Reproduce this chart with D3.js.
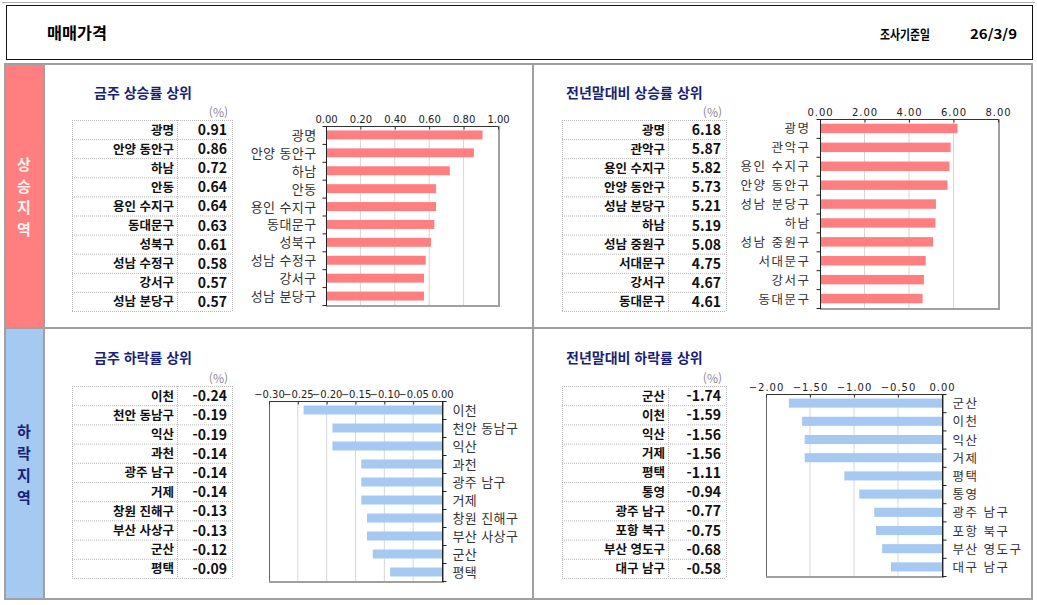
<!DOCTYPE html>
<html lang="ko">
<head>
<meta charset="UTF-8">
<title>매매가격</title>
<script src="https://cdn.jsdelivr.net/npm/d3@7/dist/d3.min.js"></script>
<style>
  * { margin: 0; padding: 0; }
  body { background: #fff; width: 1037px; height: 605px; overflow: hidden; }
  svg { display: block; font-family: "Noto Sans CJK KR", "Noto Sans", sans-serif; }
</style>
</head>
<body>
<svg id="chart" width="1037" height="605"></svg>
<script>
// ---- data ----
const weekUpNames = ['광명', '안양 동안구', '하남', '안동', '용인 수지구', '동대문구', '성북구', '성남 수정구', '강서구', '성남 분당구'];
const weekUpValues = [0.91, 0.86, 0.72, 0.64, 0.64, 0.63, 0.61, 0.58, 0.57, 0.57];
const weekUpTicks = [0, 0.2, 0.4, 0.6, 0.8, 1.0];

const ytdUpNames = ['광명', '관악구', '용인 수지구', '안양 동안구', '성남 분당구', '하남', '성남 중원구', '서대문구', '강서구', '동대문구'];
const ytdUpValues = [6.18, 5.87, 5.82, 5.73, 5.21, 5.19, 5.08, 4.75, 4.67, 4.61];
const ytdUpTicks = [0, 2, 4, 6, 8];

const weekDownNames = ['이천', '천안 동남구', '익산', '과천', '광주 남구', '거제', '창원 진해구', '부산 사상구', '군산', '평택'];
const weekDownValues = [-0.24, -0.19, -0.19, -0.14, -0.14, -0.14, -0.13, -0.13, -0.12, -0.09];
const weekDownTicks = [-0.30, -0.25, -0.20, -0.15, -0.10, -0.05, 0];

const ytdDownNames = ['군산', '이천', '익산', '거제', '평택', '통영', '광주 남구', '포항 북구', '부산 영도구', '대구 남구'];
const ytdDownValues = [-1.74, -1.59, -1.56, -1.56, -1.11, -0.94, -0.77, -0.75, -0.68, -0.58];
const ytdDownTicks = [-2, -1.5, -1, -0.5, 0];

const UP = '#ff7f80', DOWN = '#a6c9f1', NAVY = '#1a1f78', FRAME = '#a0a0a0';

const svg = d3.select('#chart');
const fmt = d3.format('.2f');

// ---- header ----
svg.append('line').attr('x1', 2).attr('x2', 1035).attr('y1', 2.5).attr('y2', 2.5).attr('stroke', '#b0b0b0');
svg.append('rect').attr('x', 6.5).attr('y', 5.5).attr('width', 1026).attr('height', 54)
  .attr('fill', '#fff').attr('stroke', '#111');
svg.append('text').attr('x', 47).attr('y', 39).text('매매가격')
  .attr('font-size', 16).attr('font-weight', 700).attr('fill', '#000')
  .attr('textLength', 60).attr('lengthAdjust', 'spacingAndGlyphs');
svg.append('text').attr('x', 880).attr('y', 39).text('조사기준일')
  .attr('font-size', 13).attr('font-weight', 700)
  .attr('textLength', 50).attr('lengthAdjust', 'spacingAndGlyphs');
svg.append('text').attr('x', 1017).attr('y', 39).attr('text-anchor', 'end').text('26/3/9')
  .attr('font-size', 13).attr('font-weight', 700)
  .attr('textLength', 47).attr('lengthAdjust', 'spacingAndGlyphs');

// ---- outer frame & side labels ----
svg.append('rect').attr('x', 5).attr('y', 64).attr('width', 1027).attr('height', 535)
  .attr('fill', 'none').attr('stroke', FRAME).attr('stroke-width', 2);
svg.append('rect').attr('x', 6).attr('y', 65).attr('width', 37).attr('height', 262).attr('fill', UP);
svg.append('rect').attr('x', 6).attr('y', 329).attr('width', 37).attr('height', 269).attr('fill', DOWN);
svg.append('line').attr('x1', 44).attr('x2', 44).attr('y1', 64).attr('y2', 599).attr('stroke', FRAME).attr('stroke-width', 2);
svg.append('line').attr('x1', 533).attr('x2', 533).attr('y1', 64).attr('y2', 599).attr('stroke', FRAME).attr('stroke-width', 2);
svg.append('line').attr('x1', 5).attr('x2', 1032).attr('y1', 328).attr('y2', 328).attr('stroke', FRAME).attr('stroke-width', 2);

function sideLabel(chars, ys, color) {
  svg.append('g').selectAll('text').data(chars).join('text')
    .attr('x', 24).attr('y', (d, i) => ys[i] + 5).attr('text-anchor', 'middle')
    .attr('font-size', 15).attr('font-weight', 700).attr('fill', color).text(d => d);
}
sideLabel(['상', '승', '지', '역'], [165, 187, 208, 230], '#fff2f2');
sideLabel(['하', '락', '지', '역'], [432, 454, 476, 498], NAVY);

// ---- panels ----
function panel(cfg) {
  const g = svg.append('g');
  const n = cfg.names.length;

  g.append('text').attr('x', cfg.titleX).attr('y', cfg.titleY).text(cfg.title)
    .attr('font-size', 14).attr('font-weight', 700).attr('fill', NAVY);

  // table
  const t = cfg.table;
  g.append('text').attr('x', t.x1 - 4).attr('y', t.top - 3).attr('text-anchor', 'end')
    .attr('font-size', 12).attr('fill', '#8a8a9a').text('(%)');
  const rows = d3.range(n + 1).map(i => t.top + i * t.rowH);
  g.append('g').selectAll('line').data(rows).join('line')
    .attr('x1', t.x0).attr('x2', t.x1).attr('y1', d => d + 0.5).attr('y2', d => d + 0.5)
    .attr('stroke', '#b8b8b8').attr('stroke-dasharray', '1,1');
  g.append('g').selectAll('line').data([t.x0, t.xDiv, t.x1]).join('line')
    .attr('x1', d => d + 0.5).attr('x2', d => d + 0.5).attr('y1', t.top).attr('y2', rows[n])
    .attr('stroke', '#b8b8b8').attr('stroke-dasharray', '1,1');
  g.append('g').selectAll('text').data(cfg.names).join('text')
    .attr('x', t.xDiv - 3).attr('y', (d, i) => t.top + t.rowH * (i + 0.5) + 5)
    .attr('text-anchor', 'end').attr('font-size', 12.5).attr('font-weight', 700).attr('fill', '#111')
    .text(d => d);
  g.append('g').selectAll('text').data(cfg.values).join('text')
    .attr('x', t.x1 - 5).attr('y', (d, i) => t.top + t.rowH * (i + 0.5) + 5.5)
    .attr('text-anchor', 'end').attr('font-size', 14).attr('font-weight', 700).attr('fill', '#111')
    .text(d => fmt(d).replace('−', '-'));

  // bar chart
  const p = cfg.plot;
  const x = d3.scaleLinear().domain(d3.extent(cfg.ticks)).range([p.x0, p.x1]);
  const y = d3.scaleBand().domain(cfg.names).range([p.y0, p.y1]).paddingInner(0.5).paddingOuter(0.25);

  g.append('g').selectAll('line').data(cfg.ticks.slice(1, -1)).join('line')
    .attr('x1', d => x(d)).attr('x2', d => x(d)).attr('y1', p.y0).attr('y2', p.y1)
    .attr('stroke', '#d6d6d6');

  g.append('g').selectAll('rect').data(cfg.values).join('rect')
    .attr('x', d => x(Math.min(0, d)))
    .attr('width', d => Math.abs(x(d) - x(0)))
    .attr('y', (d, i) => y(cfg.names[i]))
    .attr('height', y.bandwidth())
    .attr('fill', cfg.color);

  // frame
  g.append('line').attr('x1', p.x1 + 1).attr('x2', p.x1 + 1).attr('y1', p.y0).attr('y2', p.y1 + 2)
    .attr('stroke', FRAME).attr('stroke-width', 2);
  g.append('line').attr('x1', p.x0).attr('x2', p.x1 + 2).attr('y1', p.y1 + 1).attr('y2', p.y1 + 1)
    .attr('stroke', FRAME).attr('stroke-width', 2);
  g.append('line').attr('x1', p.x0).attr('x2', p.x1).attr('y1', p.y0 + 0.5).attr('y2', p.y0 + 0.5)
    .attr('stroke', '#333');
  g.append('line').attr('x1', p.x0 + 0.5).attr('x2', p.x0 + 0.5).attr('y1', p.y0).attr('y2', p.y1)
    .attr('stroke', cfg.side === 'left' ? '#333' : '#666');

  const ax = g.append('g').attr('transform', `translate(0,${p.y0 + 0.5})`)
    .call(d3.axisTop(x).tickValues(cfg.ticks).tickFormat(fmt).tickSizeInner(-3).tickSizeOuter(0).tickPadding(4));
  ax.select('.domain').remove();
  ax.selectAll('line').attr('stroke', '#333');
  ax.selectAll('text').attr('font-size', 10).attr('fill', '#222')
    .attr('font-family', '"DejaVu Sans", sans-serif').attr('letter-spacing', cfg.tickSpacing || 0);

  // category axis
  const cx = cfg.side === 'left' ? p.x0 + 0.5 : p.x1 + 0.5;
  const dir = cfg.side === 'left' ? -1 : 1;
  g.append('line').attr('x1', cx).attr('x2', cx).attr('y1', p.y0).attr('y2', p.y1 + 1).attr('stroke', '#222');
  const step = y.step();
  g.append('g').selectAll('line').data(d3.range(n + 1)).join('line')
    .attr('x1', cx).attr('x2', cx + dir * 4)
    .attr('y1', i => p.y0 + i * step + 0.5).attr('y2', i => p.y0 + i * step + 0.5)
    .attr('stroke', '#222');
  g.append('g').selectAll('text').data(cfg.names).join('text')
    .attr('x', cx + dir * 10)
    .attr('y', d => y(d) + y.bandwidth() / 2 + 5)
    .attr('text-anchor', cfg.side === 'left' ? 'end' : 'start')
    .attr('font-size', cfg.spaced ? 12.5 : 13).attr('fill', '#333')
    .attr('letter-spacing', cfg.spaced ? 1.5 : 0.4)
    .text(d => d);
}

panel({
  title: '금주 상승률 상위', names: weekUpNames, values: weekUpValues, ticks: weekUpTicks,
  color: UP, side: 'left', titleX: 94, titleY: 98,
  table: { x0: 72, x1: 232, xDiv: 177, top: 120, rowH: 19.1 },
  plot: { x0: 326, x1: 498, y0: 126, y1: 305 }
});
panel({
  title: '전년말대비 상승률 상위', names: ytdUpNames, values: ytdUpValues, ticks: ytdUpTicks,
  color: UP, side: 'left', spaced: true, tickSpacing: 1, titleX: 566, titleY: 98,
  table: { x0: 562, x1: 726, xDiv: 668, top: 120, rowH: 19.1 },
  plot: { x0: 820, x1: 998, y0: 119, y1: 308 }
});
panel({
  title: '금주 하락률 상위', names: weekDownNames, values: weekDownValues, ticks: weekDownTicks,
  color: DOWN, side: 'right', titleX: 94, titleY: 363,
  table: { x0: 72, x1: 232, xDiv: 177, top: 386, rowH: 19.2 },
  plot: { x0: 269, x1: 442, y0: 401, y1: 581 }
});
panel({
  title: '전년말대비 하락률 상위', names: ytdDownNames, values: ytdDownValues, ticks: ytdDownTicks,
  color: DOWN, side: 'right', spaced: true, tickSpacing: 1, titleX: 566, titleY: 363,
  table: { x0: 562, x1: 726, xDiv: 668, top: 386, rowH: 19.2 },
  plot: { x0: 766, x1: 942, y0: 394, y1: 576 }
});
</script>
</body>
</html>
